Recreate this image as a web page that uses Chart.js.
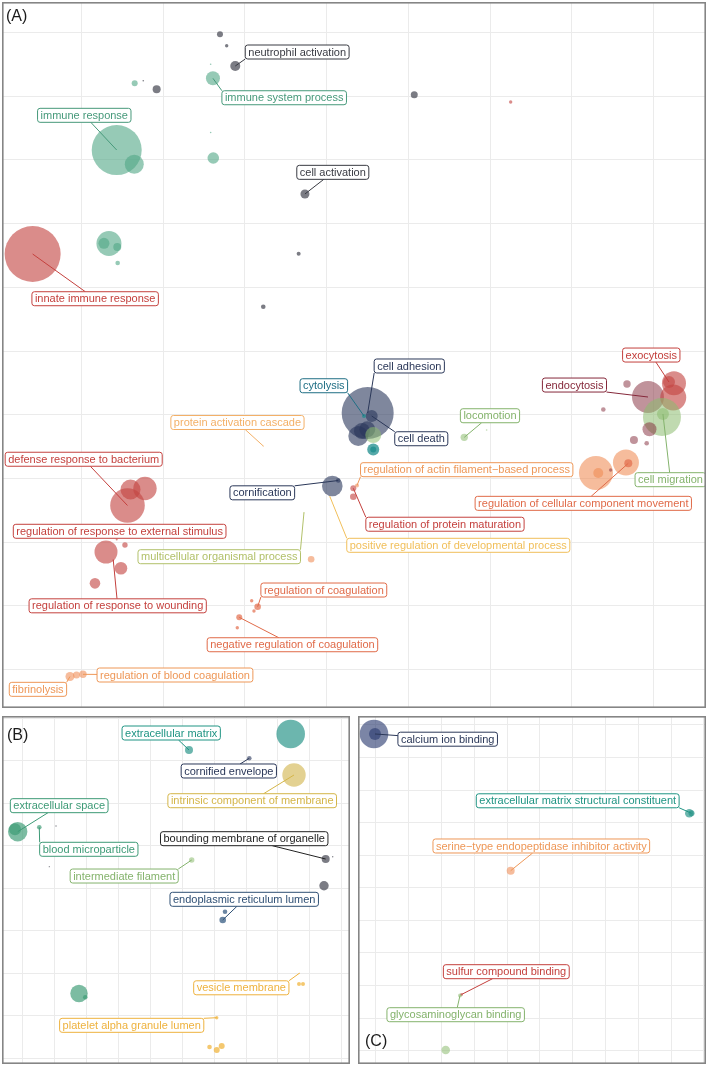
<!DOCTYPE html>
<html lang="en">
<head>
<meta charset="UTF-8">
<title>GO term clusters</title>
<script src="https://cdn.jsdelivr.net/npm/chart.js"></script>
<style>
  body { margin: 0; background: #fff; }
  canvas { position: absolute; }
</style>
</head>
<body>
<canvas id="panelA" width="704" height="706" style="left:2px;top:2px"></canvas>
<canvas id="panelB" width="348" height="348" style="left:2px;top:716px"></canvas>
<canvas id="panelC" width="348" height="348" style="left:358px;top:716px"></canvas>

<script>
// ---- (A) biological process ----
const aX = [-1.306,-1.224,-1.119,-1.420,-1.392,-2.350,-2.245,-2.081,-2.570,-2.355,
            -1.420,-1.388,-0.266,-3.599,-2.665,-2.726,-2.563,-2.558,-0.343,-0.776,
             1.072, 2.252, 0.502, 0.551, 0.457, 0.387, 0.432, 0.497, 0.570, 0.570,
             0.570, 3.933, 4.251, 4.190, 4.242, 4.104, 4.116, 3.676, 3.386, 3.951,
             3.761, 3.917, 3.296, 3.324, 3.663, 3.692, 3.476, 1.684, 1.958,-2.438,
            -2.401,-2.224,-2.469,-2.701,-2.518,-2.836,-2.570,-2.612, 0.069, 0.142,
             0.326, 0.326, 0.371,-0.190,-0.845,-0.918,-0.890,-1.070,-1.094,-3.142,
            -3.062,-2.983,-0.776,-0.278, 0.040];
const aY = [ 4.972, 4.793, 4.474, 4.501, 4.281, 4.203, 4.243, 4.108, 3.155, 2.931,
             3.430, 3.030, 2.465, 1.523, 1.688, 1.691, 1.633, 1.381, 1.527, 0.695,
             4.024, 3.909,-0.973,-1.020,-1.020,-1.334,-1.256,-1.229,-1.319,-1.546,
            -1.546,-0.722,-0.507,-0.487,-0.730,-1.036,-0.989,-0.518,-0.918,-1.229,
            -1.397,-1.449,-1.915,-1.915,-1.750,-1.763,-1.868,-1.355,-1.240,-2.425,
            -2.174,-2.159,-3.046,-3.155,-3.411,-3.647,-2.959,-3.281,-2.119,-2.033,
            -2.155,-2.287,-2.111,-3.270,-4.014,-3.920,-4.082,-4.181,-4.344,-5.110,
            -5.086,-5.075,-1.491,-2.538,-2.287];
const aSize = [3,1.7,5,0.8,7,3,0.8,4,25,9.5,
               0.8,5.8,4.5,28,12.5,5.5,4,2.3,2,2.3,
               3.5,1.7,26,6,2,10,8,8,8,6,
               3,16,12,6,13,19,6,3.7,2.3,7,
               4,2.3,17,5,13,4,1.7,3.7,0.8,17.3,
               10,11.7,2.7,11.5,6.3,5.3,1,0.8,10.3,2.3,
               3,3.3,2,3.3,3.3,1.7,1.7,3,1.7,4.5,
               3.5,3.7,0.6,0.6,0.6];
const aGroup = ['gray','gray','gray','teal','teal','teal','gray','gray','teal','teal',
                'teal','teal','gray','red','teal','teal','teal','teal','gray','gray',
                'gray','red','navy','navy','cyan','navy','navy','navy','lgreen','cyan',
                'cyan','dred','red','red','red','lgreen','lgreen','dred','dred','dred',
                'dred','dred','orange','orange','orange','coral','dred','lgreen','lgreen','red',
                'red','red','red','red','red','red','red','red','navy','navy',
                'red','red','orange','orange','coral','coral','coral','coral','coral','orange',
                'orange','orange','lorange','olive','yellow'];

const aLabelText = ['neutrophil activation','immune system process','immune response','cell activation',
  'innate immune response','cell adhesion','cytolysis','cell death','protein activation cascade',
  'locomotion','exocytosis','endocytosis','cell migration','regulation of actin filament\u2212based process',
  'regulation of cellular component movement','regulation of protein maturation',
  'positive regulation of developmental process','cornification','defense response to bacterium',
  'regulation of response to external stimulus','multicellular organismal process',
  'regulation of response to wounding','regulation of coagulation',
  'negative regulation of coagulation','regulation of blood coagulation','fibrinolysis'];
const aLabelX = [-0.361,-0.520,-2.967,0.075,-2.834,1.011,-0.035,1.158,-1.092,1.999,3.973,3.033,4.208,
                 1.714,3.141,1.448,1.611,-0.788,-2.974,-2.534,-1.315,-2.558,-0.035,-0.419,-1.857,-3.534];
const aLabelY = [4.694,3.976,3.700,2.805,0.821,-0.235,-0.545,-1.377,-1.122,-1.016,-0.063,-0.534,-2.020,
                 -1.863,-2.391,-2.719,-3.050,-2.226,-1.699,-2.830,-3.229,-4.000,-3.752,-4.611,-5.086,-5.311];
const aLabelPoint = [2,4,8,12,13,22,24,23,72,47,33,31,36,62,45,60,74,59,49,56,73,57,64,67,71,69];
const aLabelGroup = ['gray','teal','teal','gray','red','navy','cyan','navy','lorange','lgreen','red','dred',
                     'lgreen','orange','coral','red','yellow','navy','red','red','olive','red','coral',
                     'coral','orange','orange'];

// ---- (B) cellular component ----
const bX = [8.401,5.213,7.103,8.505,-0.157,-0.241,0.520,1.044,0.834,5.298,9.498,9.718,
            9.445,6.270,6.342,1.765,1.962,8.661,8.787,8.671,6.082,5.856,6.082,6.238];
const bY = [7.631,7.254,7.059,6.666,5.332,5.388,5.435,5.466,4.508,4.666,4.689,4.744,
            4.061,3.254,3.449,1.525,1.435,1.748,1.748,2.000,0.955,0.266,0.195,0.289];
const bSize = [14.3,4,2.3,11.7,9.7,6,2.3,0.7,0.6,2.7,4,0.7,4.7,3.3,2.3,8.7,2.3,2,2,0.6,1.7,2.3,3,3];
const bGroup = ['bteal','bteal','navy','bolive','bgreen','bgreen','bgreen','gray','gray','lgreen',
                'gray','gray','gray','bblue','bblue','bgreen','bgreen','gold','gold','gold',
                'gold','gold','gold','gold'];
const bLabelText = ['extracellular matrix','cornified envelope','intrinsic component of membrane',
  'extracellular space','blood microparticle','bounding membrane of organelle','intermediate filament',
  'endoplasmic reticulum lumen','vesicle membrane','platelet alpha granule lumen'];
const bLabelX = [4.655,6.461,7.194,1.144,2.072,6.944,3.182,6.944,6.853,3.417];
const bLabelY = [7.654,6.760,6.061,5.944,4.918,5.167,4.289,3.741,1.659,0.776];
const bLabelPoint = [1,2,3,4,6,10,9,13,19,20];
const bLabelGroup = ['bteal','navy','bolive','bgreen','bgreen','black','lgreen','bblue','gold','gold'];

// ---- (C) molecular function ----
const cX = [-0.061,-0.031,9.558,9.625,4.109,2.608,2.563,2.126];
const cY = [9.724,9.724,7.289,7.289,5.527,1.726,1.695,0.021];
const cSize = [14.3,6,4.3,3,4,1.5,2,4.3];
const cGroup = ['cnavy','cnavy','bteal','bteal','orange','red','lgreen','lgreen'];
const cLabelText = ['calcium ion binding','extracellular matrix structural constituent',
  'serine\u2212type endopeptidase inhibitor activity','sulfur compound binding','glycosaminoglycan binding'];
const cLabelX = [2.187,6.153,5.043,3.975,2.431];
const cLabelY = [9.564,7.673,6.285,2.426,1.105];
const cLabelPoint = [1,3,4,5,6];
const cLabelGroup = ['navy','bteal','orange','red','lgreen'];

const palette = {
  gray:   { fill: 'rgba(72,74,84,0.72)',   line: '#383a42' },
  teal:   { fill: 'rgba(80,166,134,0.6)',  line: '#46997a' },
  red:    { fill: 'rgba(196,70,66,0.62)',  line: '#c4403d' },
  navy:   { fill: 'rgba(42,55,92,0.6)',    line: '#2a3758' },
  cyan:   { fill: 'rgba(28,140,140,0.75)', line: '#1f6e84' },
  lgreen: { fill: 'rgba(140,188,112,0.55)',line: '#84b36c' },
  dred:   { fill: 'rgba(130,40,55,0.5)',   line: '#85283a' },
  orange: { fill: 'rgba(240,140,85,0.58)', line: '#ee9757' },
  coral:  { fill: 'rgba(226,108,76,0.7)',  line: '#e06a48' },
  lorange:{ fill: 'rgba(245,180,100,0.8)', line: '#f3b067' },
  yellow: { fill: 'rgba(242,190,85,0.8)',  line: '#f1bf5a' },
  olive:  { fill: 'rgba(180,195,100,0.8)', line: '#b2c16a' },
  bteal:  { fill: 'rgba(38,148,136,0.68)', line: '#1f9483' },
  bgreen: { fill: 'rgba(62,156,118,0.68)', line: '#3d9a76' },
  bolive: { fill: 'rgba(208,178,72,0.6)',  line: '#d4b548' },
  bblue:  { fill: 'rgba(48,88,128,0.72)',  line: '#2e4f74' },
  gold:   { fill: 'rgba(240,182,64,0.75)', line: '#eeb23e' },
  black:  { fill: 'rgba(40,40,40,0.8)',    line: '#222222' },
  cnavy:  { fill: 'rgba(42,58,112,0.62)',  line: '#2c3a6a' }
};

const FONT = '"Liberation Sans", Arial, Helvetica, sans-serif';

function range(a, b) { const r = []; for (let v = a; v <= b; v++) r.push(v); return r; }

// where the leader line leaves the label box: nearest corner when the point
// sits diagonally off the box, otherwise along the line to the box centre
function segmentStart(cx, cy, w, h, px, py) {
  const l = cx - w / 2, r = cx + w / 2, t = cy - h / 2, b = cy + h / 2;
  const offX = px < l || px > r, offY = py < t || py > b;
  if (!offX && !offY) return null;
  if (offX && offY) return [px < l ? l : r, py < t ? t : b];
  const dx = px - cx, dy = py - cy;
  const tx = dx !== 0 ? (w / 2) / Math.abs(dx) : Infinity;
  const ty = dy !== 0 ? (h / 2) / Math.abs(dy) : Infinity;
  const s = Math.min(tx, ty);
  return [cx + dx * s, cy + dy * s];
}

// labels in boxes with a segment to their point, like ggrepel
function labelPlugin(p) {
  return {
    id: 'repel' + p.tag,
    afterDatasetsDraw(chart) {
      const ctx = chart.ctx, sx = chart.scales.x, sy = chart.scales.y;
      ctx.save();
      ctx.font = '11px ' + FONT;
      ctx.textAlign = 'center';
      ctx.textBaseline = 'middle';
      p.labelText.forEach((t, i) => {
        const col = palette[p.labelGroup[i]].line;
        const cx = sx.getPixelForValue(p.labelX[i]), cy = sy.getPixelForValue(p.labelY[i]);
        const k = p.labelPoint[i];
        const px = sx.getPixelForValue(p.x[k]), py = sy.getPixelForValue(p.y[k]);
        const w = ctx.measureText(t).width + 6, h = 14;
        const st = segmentStart(cx, cy, w, h, px, py);
        if (st && Math.hypot(px - st[0], py - st[1]) > 4) {
          ctx.strokeStyle = col;
          ctx.lineWidth = 1;
          ctx.beginPath();
          ctx.moveTo(st[0], st[1]);
          ctx.lineTo(px, py);
          ctx.stroke();
        }
        ctx.beginPath();
        ctx.roundRect(cx - w / 2, cy - h / 2, w, h, 2.5);
        ctx.fillStyle = '#ffffff';
        ctx.fill();
        ctx.strokeStyle = col;
        ctx.lineWidth = 1;
        ctx.stroke();
        ctx.fillStyle = col;
        ctx.fillText(t, cx, cy + 0.5);
      });
      ctx.restore();
    },
    afterDraw(chart) {
      const ctx = chart.ctx, W = chart.width, H = chart.height;
      ctx.save();
      ctx.strokeStyle = '#858585';
      ctx.lineWidth = 1.6;
      ctx.strokeRect(0.8, 0.8, W - 1.6, H - 1.6);
      ctx.fillStyle = '#1a1a1a';
      ctx.font = '16px ' + FONT;
      ctx.textAlign = 'left';
      ctx.textBaseline = 'middle';
      ctx.fillText('(' + p.tag + ')', p.tagAt[0], p.tagAt[1]);
      ctx.restore();
    }
  };
}

function drawPanel(id, p) {
  const axis = (lo, hi, ticks) => ({
    type: 'linear', min: lo, max: hi,
    afterBuildTicks: s => { s.ticks = ticks.map(v => ({ value: v })); },
    grid: { color: '#ebebeb', lineWidth: 1, drawTicks: false },
    border: { display: false },
    ticks: { display: false }
  });
  new Chart(document.getElementById(id), {
    type: 'bubble',
    data: {
      datasets: [{
        data: p.x.map((v, i) => ({ x: v, y: p.y[i], r: p.size[i] })),
        backgroundColor: p.group.map(g => palette[g].fill),
        borderWidth: 0,
        clip: false
      }]
    },
    options: {
      responsive: false,
      animation: false,
      devicePixelRatio: 1,
      events: [],
      layout: { padding: 0, autoPadding: false },
      plugins: { legend: { display: false }, tooltip: { enabled: false } },
      scales: {
        x: axis(p.xRange[0], p.xRange[1], p.xTicks),
        y: axis(p.yRange[0], p.yRange[1], p.yTicks)
      }
    },
    plugins: [labelPlugin(p)]
  });
}

drawPanel('panelA', {
  tag: 'A', tagAt: [4, 15],
  x: aX, y: aY, size: aSize, group: aGroup,
  labelText: aLabelText, labelX: aLabelX, labelY: aLabelY, labelPoint: aLabelPoint, labelGroup: aLabelGroup,
  xRange: [-3.974, 4.643], yRange: [-5.604, 5.479], xTicks: range(-3, 4), yTicks: range(-5, 5)
});
drawPanel('panelB', {
  tag: 'B', tagAt: [5, 20],
  x: bX, y: bY, size: bSize, group: bGroup,
  labelText: bLabelText, labelX: bLabelX, labelY: bLabelY, labelPoint: bLabelPoint, labelGroup: bLabelGroup,
  xRange: [-0.649, 10.26], yRange: [-0.134, 8.054], xTicks: range(0, 10), yTicks: range(0, 8)
});
drawPanel('panelC', {
  tag: 'C', tagAt: [7, 326],
  x: cX, y: cY, size: cSize, group: cGroup,
  labelText: cLabelText, labelX: cLabelX, labelY: cLabelY, labelPoint: cLabelPoint, labelGroup: cLabelGroup,
  xRange: [-0.549, 10.067], yRange: [-0.408, 10.276], xTicks: range(0, 10), yTicks: range(0, 10)
});
</script>
</body>
</html>
